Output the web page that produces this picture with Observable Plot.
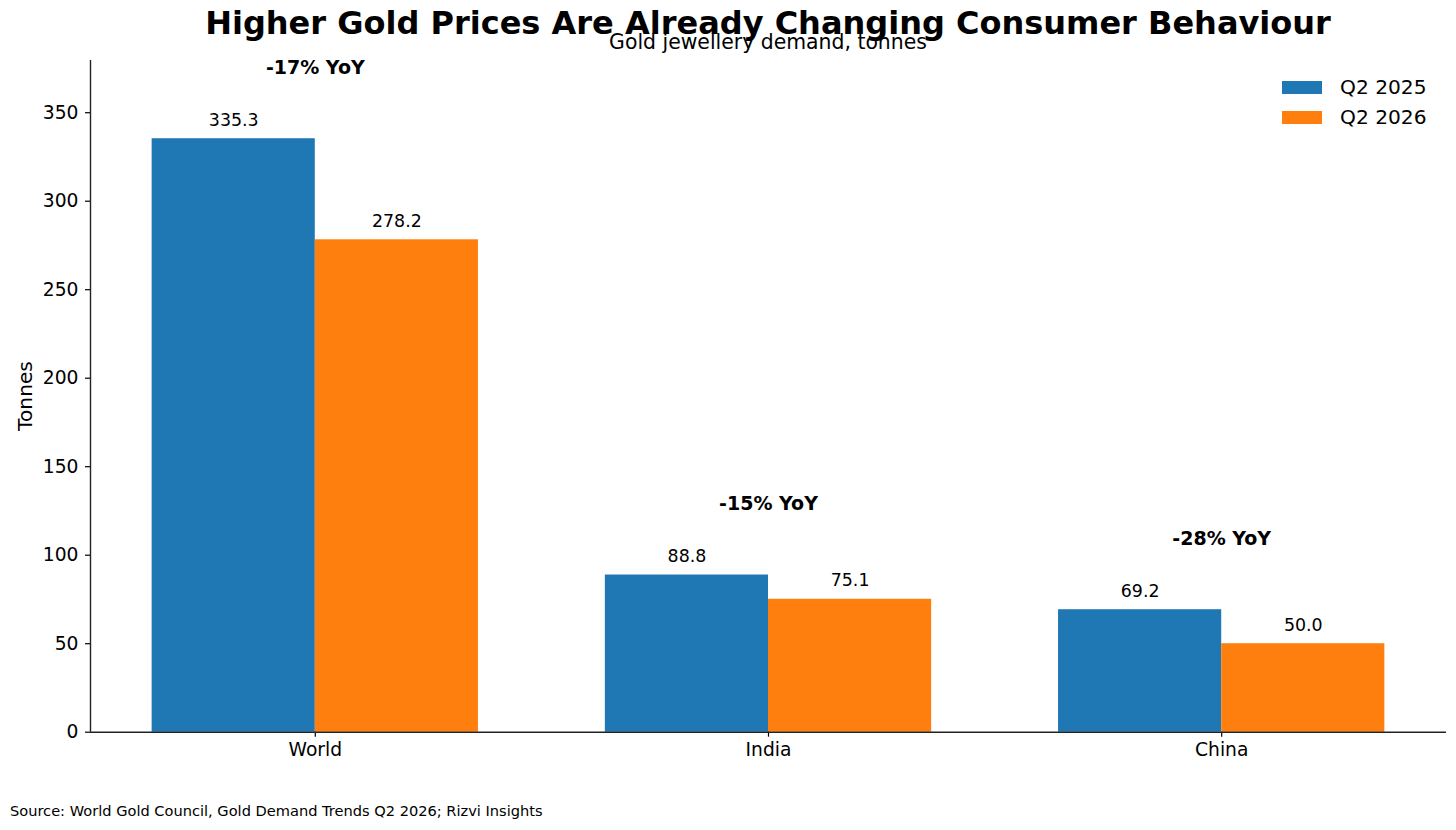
<!DOCTYPE html>
<html>
<head>
<meta charset="utf-8">
<script src="https://cdn.jsdelivr.net/npm/d3@7"></script>
<script src="https://cdn.jsdelivr.net/npm/@observablehq/plot@0.6"></script>
<style>
  html, body { margin: 0; padding: 0; background: #fff; }
  body { width: 1456px; height: 830px; position: relative; overflow: hidden; font-family: "DejaVu Sans", sans-serif; color: #000; }
  .t { position: absolute; line-height: 1; white-space: nowrap; }
  #title { left: 768px; top: 7.2px; font-size: 32px; font-weight: bold; transform: translateX(-50%); }
  #subtitle { left: 768px; top: 32.0px; font-size: 20.4px; transform: translateX(-50%); }
  #ylabel { left: 25px; top: 396px; font-size: 20.2px; transform: translate(-50%, -50%) rotate(-90deg); }
  #caption { left: 10px; top: 804.3px; font-size: 14.6px; }
  .sw { position: absolute; left: 1282px; width: 40px; height: 13.6px; }
  .lt { left: 1340px; font-size: 20.2px; }
  #chart { position: absolute; left: 0; top: 0; }
</style>
</head>
<body>
<div id="chart"></div>
<div class="t" id="title"></div>
<div class="t" id="subtitle"></div>
<div class="t" id="ylabel"></div>
<div class="t" id="caption"></div>
<div id="legend"></div>
<script>
// ---- data ----
const regions = ["World", "India", "China"];
const q2025 = [335.3, 88.8, 69.2];
const q2026 = [278.2, 75.1, 50.0];
const yoyLabels = ["-17% YoY", "-15% YoY", "-28% YoY"];
const seriesNames = ["Q2 2025", "Q2 2026"];
const yTicks = [0, 50, 100, 150, 200, 250, 300, 350];
const titleText = "Higher Gold Prices Are Already Changing Consumer Behaviour";
const subtitleText = "Gold jewellery demand, tonnes";
const yLabelText = "Tonnes";
const captionText = "Source: World Gold Council, Gold Demand Trends Q2 2026; Rizvi Insights";

// ---- style / layout ----
const colors = ["#1f77b4", "#ff7f0e"];
const BAR_W = 0.36;
const X_DOMAIN = [-0.496, 2.496];
const Y_DOMAIN = [0, 379.5];
const YOY_OFFSET = 40;

const rows = [];
regions.forEach((r, i) => {
  rows.push({region: r, i, series: seriesNames[0], value: q2025[i], x1: i - BAR_W, x2: i});
  rows.push({region: r, i, series: seriesNames[1], value: q2026[i], x1: i, x2: i + BAR_W});
});
const yoy = regions.map((r, i) => ({region: r, i, label: yoyLabels[i], y: Math.max(q2025[i], q2026[i]) + YOY_OFFSET}));

const chart = Plot.plot({
  width: 1456,
  height: 830,
  marginLeft: 90,
  marginRight: 10,
  marginTop: 60,
  marginBottom: 98.3,
  style: {fontFamily: "DejaVu Sans", fontSize: "18px", background: "white", color: "#000", overflow: "visible"},
  x: {type: "linear", domain: X_DOMAIN, axis: null},
  y: {domain: Y_DOMAIN, axis: null},
  color: {domain: seriesNames, range: colors},
  marks: [
    Plot.rectY(rows, {x1: "x1", x2: "x2", y1: 0, y2: "value", fill: "series", inset: 0}),
    Plot.axisX({ticks: [0, 1, 2], tickFormat: i => regions[i], tickSize: 5, tickPadding: 6, fontSize: 18.7, label: null, strokeWidth: 1.2}),
    Plot.axisY({ticks: yTicks, tickFormat: d => String(d), tickSize: 5, tickPadding: 7, fontSize: 18.7, label: null, strokeWidth: 1.2}),
    Plot.ruleY([0], {stroke: "#222", strokeWidth: 1.4}),
    Plot.ruleX([X_DOMAIN[0]], {stroke: "#222", strokeWidth: 1.4}),
    Plot.text(rows, {x: d => (d.x1 + d.x2) / 2, y: "value", text: d => d.value.toFixed(1), dy: -13, lineAnchor: "bottom", fontSize: 17.4, fill: "#000"}),
    Plot.text(yoy, {x: "i", y: "y", text: "label", lineAnchor: "middle", fontSize: 19, fontWeight: "bold", fill: "#000"})
  ]
});
document.getElementById("chart").appendChild(chart);

document.getElementById("title").textContent = titleText;
document.getElementById("subtitle").textContent = subtitleText;
document.getElementById("ylabel").textContent = yLabelText;
document.getElementById("caption").textContent = captionText;

const legend = document.getElementById("legend");
seriesNames.forEach((s, k) => {
  const sw = document.createElement("div");
  sw.className = "sw";
  sw.style.top = (80.7 + k * 30) + "px";
  sw.style.background = colors[k];
  legend.appendChild(sw);
  const lt = document.createElement("div");
  lt.className = "t lt";
  lt.style.top = (94.3 - 0.846 * 20.2 + k * 30) + "px";
  lt.textContent = s;
  legend.appendChild(lt);
});
</script>
</body>
</html>
